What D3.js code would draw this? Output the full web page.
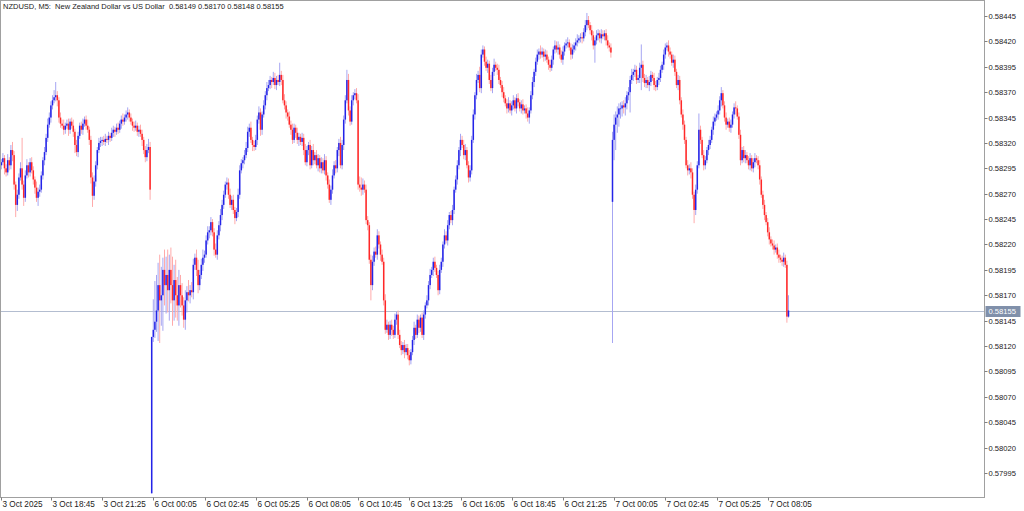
<!DOCTYPE html>
<html><head><meta charset="utf-8">
<script src="https://cdn.jsdelivr.net/npm/d3@7"></script>
<style>html,body{margin:0;padding:0;background:#fff;overflow:hidden} text{white-space:pre}</style>
</head><body><svg id="c" width="1024" height="511"></svg>
<script>
const chartTitle = "NZDUSD, M5:  New Zealand Dollar vs US Dollar  0.58149 0.58170 0.58148 0.58155";
const priceBase = 0.58, point = 0.00001;
// prices in points above 0.58000
const sessionStart = ["2025-10-03T16:05", "2025-10-06T00:00", "2025-10-07T00:00"];
const sessionOpen = [300, -25, 262];
const fridayClose = [298,301,305,295,291,303,298,313,308,279, 259,269,286,295,279,266,288,298,291,301,
 293,284,276,266,272,274,288,303,311,325, 338,345,357,362,365,367,362,345,339,337,
 333,337,339,333,341,337,331,318,311,327, 337,333,339,343,337,333,323,286,268,282,
 298,313,320,322,323,321,324,323,327,325, 330,333,331,335,333,339,343,341,345,348,
 350,345,341,337,335,337,331,333,329,323, 313,306,313,316,274];
const fridayHi = [4,3,5,3,4,6,3,5,8,4, 3,5,4,6,30,4,5,6,3,4, 5,4,3,6,4,5,4,3,5,4, 6,5,4,5,7,13,4,3,5,4,
 6,3,4,5,3,4,6,3,5,4, 3,4,5,3,4,6,3,4,5,6, 4,3,5,4,3,4,5,3,4,3, 5,4,3,4,5,3,4,6,3,4,
 5,3,4,3,4,5,3,4,5,4, 3,4,6,8,5];
const fridayLo = [5,4,3,6,4,3,5,4,6,5, 12,6,4,3,5,8,4,3,5,4, 3,5,6,4,8,5,3,4,5,3, 4,3,5,4,3,4,6,5,4,3,
 5,4,3,6,4,3,5,8,4,5, 3,4,5,3,4,3,5,6,11,4, 5,4,3,4,5,3,4,3,5,4, 3,4,5,3,4,3,5,4,3,4,
 5,4,3,5,4,3,4,5,3,6, 4,5,4,3,10];
const mondayClose = [129,136,144,155,180,165,170,195,180,190, 175,195,180,165,185,170,160,180,170,160,
 146,165,173,170,175,173,200,207,195,180, 190,200,207,210,224,232,234,242,232,215,
 210,229,239,249,259,269,279,281,269,259, 264,254,246,252,269,293,300,303,308,315,
 331,335,323,318,316,323,343,350,333,348, 357,367,374,377,382,380,384,377,382,380,
 387,382,362,357,350,346,338,333,323,335, 330,323,326,321,325,313,301,313,318,298,
 313,303,308,298,305,295,301,293,303,288, 279,264,274,288,298,295,313,320,298,318,
 343,362,382,352,341,362,367,369,362,279, 276,274,279,274,244,239,205,180,203,213,
 210,229,220,210,203,165,136,141,131,141, 136,131,146,151,131,121,116,121,114,118,
 111,106,114,126,138,131,146,138,148,131, 151,160,165,180,190,195,203,197,190,175,
 195,203,220,229,224,239,249,244,254,274, 284,298,313,323,318,308,313,298,286,293,
 323,348,367,382,387,374,407,412,400,394, 398,382,374,390,397,394,392,382,377,370,
 364,359,354,359,352,357,362,354,364,360, 354,358,352,354,349,345,352,367,380,390,
 400,407,410,407,410,405,407,402,397,394, 402,412,416,412,414,407,402,410,416,418,
 419,414,407,412,416,419,421,423,424,423, 429,436,441,436,431,426,416,421,426,428,
 423,427,425,428,421,416,414,409];
const mondayHi = [0,30,40,35,22,30,28,12,20,18, 25,15,22,28,15,20,18,15,10,12, 8,10,6,12,5,8,6,4,8,10,
 5,6,8,4,5,6,4,5,3,4, 6,5,4,6,5,4,3,5,4,6, 4,5,3,4,6,5,4,3,5,6, 5,4,6,3,4,5,4,6,4,3,
 5,4,6,5,4,3,6,5,4,5, 12,4,5,6,4,3,5,4,6,4, 3,5,4,3,5,4,6,4,3,5, 4,6,3,5,4,3,5,4,6,4,
 3,5,4,6,4,5,3,4,6,5, 4,5,10,6,4,5,3,4,5,6, 8,10,6,4,5,4,3,5,6,4, 5,6,4,3,5,4,6,5,3,4,
 5,4,6,3,4,5,4,3,5,4, 4,5,3,4,6,3,5,4,3,5, 4,3,5,4,6,3,4,5,3,4, 5,4,3,6,4,5,3,4,5,3,
 4,5,3,6,4,5,6,3,4,5, 4,5,3,6,4,8,5,4,3,5, 4,3,5,4,6,3,4,5,3,4, 5,3,4,6,3,4,5,3,4,5,
 3,4,5,3,4,6,3,4,5,3, 4,5,3,6,4,3,5,4,3,5, 4,3,5,4,6,3,4,5,3,4, 5,3,4,5,3,4,6,3,4,5,
 4,5,7,4,3,5,4,3,5,4, 3,5,4,3,4,5,3,4];
const mondayLo = [0,5,8,10,30,42,25,35,20,28, 22,30,18,25,20,22,15,20,12,10, 8,10,12,6,8,5,7,5,6,8,
 5,4,6,5,3,4,6,5,4,6, 3,5,4,6,5,4,3,5,4,3, 5,4,6,3,5,4,3,5,4,3, 4,5,3,6,4,3,5,4,6,5,
 3,4,5,3,4,6,3,4,5,3, 4,5,3,4,6,4,3,5,4,3, 5,4,6,3,4,5,3,4,5,4, 3,5,4,3,6,4,5,3,4,5,
 4,3,5,4,3,5,4,6,3,4, 5,4,3,5,4,3,5,4,3,5, 4,6,5,3,4,5,4,15,5,4, 3,5,4,6,3,5,4,3,5,4,
 6,4,3,5,4,3,5,4,6,3, 4,5,4,3,5,4,3,5,4,3, 5,4,3,5,4,3,6,4,3,5, 4,3,5,4,3,5,4,3,5,4,
 3,5,4,6,3,4,5,3,5,4, 4,3,5,4,3,4,5,3,4,3, 5,4,3,5,4,3,5,4,3,5, 4,3,5,4,3,5,4,3,5,4,
 3,5,4,3,5,4,6,3,4,5, 4,3,5,4,3,5,4,3,5,4, 3,5,4,3,5,4,3,5,4,3, 4,3,5,4,3,5,4,3,4,5,
 3,4,5,3,4,5,4,17,4,5, 4,5,3,4,5,3,4,5];
const tuesdayClose = [323,338,345,348,354,354,357,355,359,367, 370,382,387,390,392,382,384,394,397,384,
 379,382,377,380,387,384,377,375,382,384, 392,397,407,414,416,410,407,399,402,390,
 377,382,362,348,338,323,298,293,295,291, 269,254,274,298,333,323,308,298,303,313,
 318,323,333,341,345,348,352,362,369,357, 345,338,341,335,338,348,355,354,346,328,
 303,313,305,308,303,298,305,295,301,305, 303,298,284,269,259,249,242,232,225,221,
 219,215,217,210,207,205,203,207,200,149,155];
const tuesdayHi = [8,10,6,8,5,6,4,5,6,4, 5,4,6,3,5,4,3,5,20,4, 4,5,3,6,4,3,5,4,3,5, 4,3,5,4,3,5,4,3,5,4,
 3,5,4,3,5,4,3,5,4,6, 4,3,5,4,16,4,3,5,4,3, 5,4,3,5,4,3,5,4,6,3, 4,5,3,4,5,3,4,6,3,4,
 5,3,4,5,3,4,5,3,4,5, 3,4,5,3,4,5,3,4,5,3, 4,5,3,4,5,3,4,5,3,4,15];
const tuesdayLo = [139,20,25,15,12,10,8,6,8,6, 5,20,4,6,5,4,3,5,22,4, 4,5,3,6,4,3,5,4,3,5, 4,3,5,4,3,5,4,3,5,4,
 3,5,4,3,5,4,3,5,4,6, 4,13,5,4,3,4,3,5,4,3, 5,4,3,5,4,3,5,4,6,3, 4,5,3,4,5,3,4,6,3,4,
 5,3,4,5,3,4,5,3,4,5, 3,4,5,3,4,5,3,4,5,3, 4,5,3,4,5,3,4,5,3,6,1];
const priceTicks = [0.58445,0.58420,0.58395,0.58370,0.58345,0.58320,0.58295,0.58270,0.58245,0.58220,
 0.58195,0.58170,0.58145,0.58120,0.58095,0.58070,0.58045,0.58020,0.57995];
const timeTickAt = ["2025-10-03T16:05","2025-10-03T18:45","2025-10-03T21:25","2025-10-06T00:05","2025-10-06T02:45",
 "2025-10-06T05:25","2025-10-06T08:05","2025-10-06T10:45","2025-10-06T13:25","2025-10-06T16:05",
 "2025-10-06T18:45","2025-10-06T21:25","2025-10-07T00:05","2025-10-07T02:45","2025-10-07T05:25","2025-10-07T08:05"];
const timeTickLabels = ["3 Oct 2025","3 Oct 18:45","3 Oct 21:25","6 Oct 00:05","6 Oct 02:45","6 Oct 05:25",
 "6 Oct 08:05","6 Oct 10:45","6 Oct 13:25","6 Oct 16:05","6 Oct 18:45","6 Oct 21:25","7 Oct 00:05",
 "7 Oct 02:45","7 Oct 05:25","7 Oct 08:05"];
const lastPrice = 0.58155;

// ---- build bars
const sessClose = [fridayClose, mondayClose, tuesdayClose];
const sessHi = [fridayHi, mondayHi, tuesdayHi];
const sessLo = [fridayLo, mondayLo, tuesdayLo];
const parse = d3.timeParse("%Y-%m-%dT%H:%M");
const bars = [];
sessClose.forEach((closes, s) => {
  const t0 = parse(sessionStart[s]);
  closes.forEach((c, i) => {
    const o = i === 0 ? sessionOpen[s] : closes[i - 1];
    bars.push({
      t: +d3.timeMinute.offset(t0, 5 * i),
      o: priceBase + o * point, c: priceBase + c * point,
      h: priceBase + (Math.max(o, c) + sessHi[s][i]) * point,
      l: priceBase + (Math.min(o, c) - sessLo[s][i]) * point
    });
  });
});
const idxOf = new Map(bars.map((b, i) => [b.t, i]));

const W = 1024, H = 511;
const plotR = 984.5, plotB = 497.5;
const svg = d3.select("#c");
const x = d3.scaleLinear().domain([0, bars.length - 1]).range([-0.3, -0.3 + (bars.length - 1) * 1.6]);
const y = d3.scaleLinear().domain([0.58445, 0.57995]).range([16, 473]);

svg.append("rect").attr("width", W).attr("height", H).attr("fill", "#fff");
svg.append("defs").append("clipPath").attr("id", "clip").append("rect")
  .attr("x", 0.5).attr("y", 0.5).attr("width", plotR - 0.5).attr("height", plotB - 0.5);

const g = svg.append("g").attr("clip-path", "url(#clip)");
// last price line
g.append("line").attr("x1", 0).attr("x2", plotR).attr("y1", Math.round(y(lastPrice)) + 0.5).attr("y2", Math.round(y(lastPrice)) + 0.5)
  .attr("stroke", "#b3bdd0").attr("stroke-width", 1);

const bull = d => d.c >= d.o;
g.selectAll("line.w").data(bars).join("line").attr("class", "w")
  .attr("x1", (d, i) => x(i)).attr("x2", (d, i) => x(i))
  .attr("y1", d => y(d.h)).attr("y2", d => y(d.l))
  .attr("stroke", d => bull(d) ? "#a6a6f2" : "#ffaaaa").attr("stroke-width", 1);
g.selectAll("rect.b").data(bars).join("rect").attr("class", "b")
  .attr("x", (d, i) => x(i) - 0.75).attr("width", 1.5)
  .attr("y", d => y(Math.max(d.o, d.c)))
  .attr("height", d => Math.max(0.8, Math.abs(y(d.o) - y(d.c))))
  .attr("fill", d => bull(d) ? "#2424e8" : "#ff2828");

// frame
svg.append("rect").attr("x", 0.5).attr("y", 0.5).attr("width", plotR - 0.5).attr("height", plotB - 0.5)
  .attr("fill", "none").attr("stroke", "#a0a0a0");

// price axis
const fontFam = "'Liberation Sans', Arial, sans-serif";
const ya = svg.append("g");
priceTicks.forEach(p => {
  const yy = Math.round(y(p)) + 0.5;
  ya.append("line").attr("x1", plotR).attr("x2", plotR + 3).attr("y1", yy).attr("y2", yy).attr("stroke", "#808080");
  ya.append("text").attr("x", plotR + 4).attr("y", yy).attr("dy", "0.35em")
    .attr("font-family", fontFam).attr("font-size", 7.6).attr("fill", "#1a1a1a").text(p.toFixed(5));
});
// last price label
const ly = Math.round(y(lastPrice)) + 0.5;
svg.append("rect").attr("x", plotR + 1).attr("y", ly - 5.5).attr("width", 35).attr("height", 11).attr("fill", "#8090aa");
svg.append("text").attr("x", plotR + 4).attr("y", ly).attr("dy", "0.35em").attr("font-family", fontFam)
  .attr("font-size", 7.6).attr("fill", "#fff").text(lastPrice.toFixed(5));

// time axis
const xa = svg.append("g");
timeTickAt.forEach((ts, k) => {
  const i = idxOf.get(+parse(ts));
  const xx = k === 0 ? 1.5 : Math.round(x(i)) + 0.5;
  xa.append("line").attr("x1", xx).attr("x2", xx).attr("y1", plotB).attr("y2", plotB + 3).attr("stroke", "#808080");
  xa.append("text").attr("x", xx + 1).attr("y", plotB + 9).attr("font-family", fontFam)
    .attr("font-size", 8.2).attr("fill", "#1a1a1a").text(timeTickLabels[k]);
});

// title
svg.append("text").attr("x", 3).attr("y", 9).attr("font-family", fontFam).attr("font-size", 7.5)
  .attr("fill", "#1a1a1a").text(chartTitle);
</script></body></html>
